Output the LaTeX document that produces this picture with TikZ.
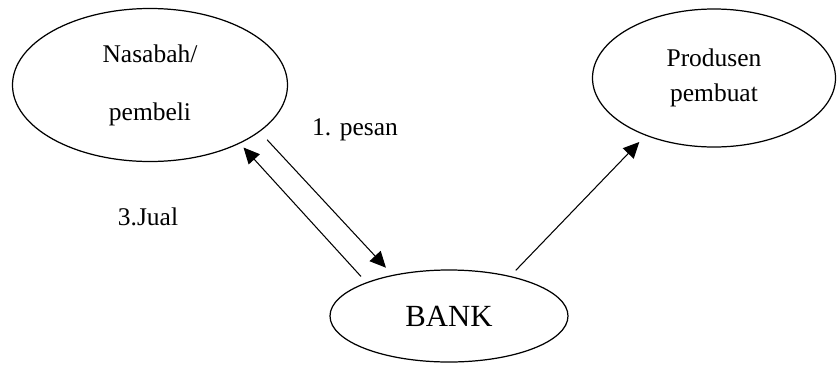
\documentclass[tikz,border=0pt]{standalone}
\usepackage{fontspec}
\setmainfont{Liberation Serif}
\usetikzlibrary{shapes.geometric, arrows.meta}

\begin{document}
\begin{tikzpicture}[x=0.2mm, y=0.2mm,
        pihak/.style={draw, ellipse, line width=0.7pt, inner sep=0pt, outer sep=0pt, align=center},
        panah/.style={-{Triangle[length=3.2mm,width=3mm]}, line width=0.6pt},
        teks/.style={font=\fontsize{14.5}{17}\selectfont}]
    \useasboundingbox (0,0) rectangle (838,365);
    % tiga pihak
    \node[pihak, minimum width=5.5cm, minimum height=3.06cm, font=\fontsize{14.5}{33}\selectfont] (nasabah) at (150,280) {Nasabah/\\pembeli};
    \node[pihak, minimum width=4.86cm, minimum height=2.76cm, font=\fontsize{14.5}{20}\selectfont] (produsen) at (714,287) {Produsen\\pembuat};
    \node[pihak, minimum width=4.76cm, minimum height=1.84cm, font=\fontsize{17.5}{21}\selectfont] (bank) at (449,49) {BANK};
    % alur
    \draw[panah, shorten <=0.23cm, shorten >=0.21cm] (nasabah.-23.1) -- (bank.144.7);
    \draw[panah, shorten <=0.17cm, shorten >=0.12cm] (bank.158.5) -- (nasabah.-33.3);
    \draw[panah, shorten <=0.17cm, shorten >=0.19cm] (bank.33.6) -- (produsen.-140.1);
    \node[teks] (pesan) at (355,235) {1. pesan};
    \node[teks] (jual) at (148,148) {3.Jual};
\end{tikzpicture}
\end{document}
